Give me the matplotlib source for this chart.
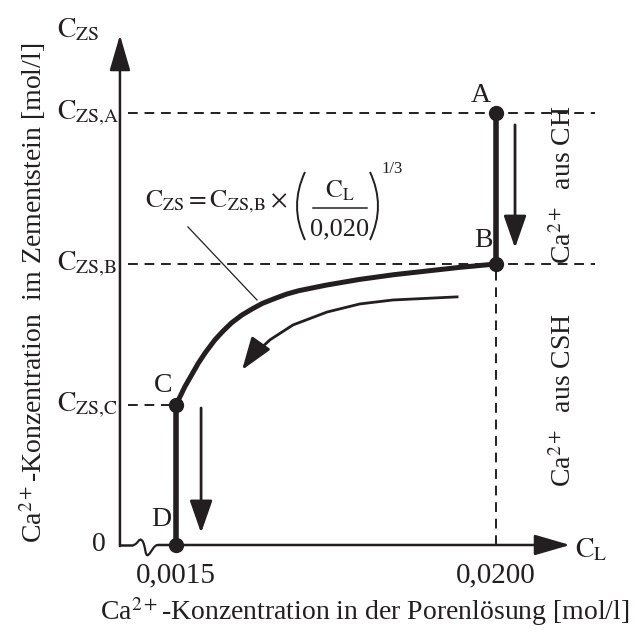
import numpy as np
import matplotlib
matplotlib.use('Agg')
import matplotlib.pyplot as plt
from matplotlib.path import Path
from matplotlib.patches import PathPatch

plt.rcParams['font.family'] = ['Liberation Serif', 'DejaVu Serif']
plt.rcParams['mathtext.fontset'] = 'stix'
farbe = '#231f20'

# Kennpunkte (C_L in mol/l, C_ZS bezogen auf C_ZS,B)
c_l_ch = 0.0200
c_l_csh = 0.0015
c_zs_a = 1.537
c_zs_b = 1.0
c_zs_c = 0.498
c_zs_top = 1.815

punkte_x = [c_l_ch, c_l_ch, c_l_csh, c_l_csh]
punkte_y = [c_zs_a, c_zs_b, c_zs_c, 0.0]

# Kurve C_ZS(C_L) zwischen C und B
kurve_cl = [0.0015, 0.0020, 0.0028, 0.0032, 0.00375, 0.0042, 0.0047, 0.0053, 0.0059,
            0.0065, 0.0072, 0.0079, 0.0086, 0.0102, 0.0121, 0.0141, 0.0160, 0.0179, 0.0200]
kurve_czs = [0.498, 0.562, 0.648, 0.685, 0.730, 0.760, 0.790, 0.818, 0.840,
             0.860, 0.877, 0.893, 0.905, 0.925, 0.945, 0.962, 0.975, 0.988, 1.0]

# gebogener Pfeil (Richtung B -> C)
pfeil_cl = [0.01775, 0.01405, 0.01214, 0.01023, 0.00826, 0.00693, 0.0058]
pfeil_czs = [0.883, 0.872, 0.858, 0.829, 0.783, 0.730, 0.665]
pfeil_spitze = (0.00532, 0.623)

x_ticks = [0.0015, 0.0200]
x_ticklabels = ['0,0015', '0,0200']

# Achsenursprung (Achse mit Bruch)
x0 = -0.00174
x_ende = 0.02428
x_dash_ende = 0.02572


def px(xp, yp):
    # Pixelposition -> Datenkoordinaten (fuer Dekoration der Formel)
    return (0.0015 + (xp - 176) / 17297.0, (545 - yp) / 281.0)


fig = plt.figure(figsize=(6.44, 6.35), dpi=100)
ax = fig.add_axes([0, 0, 1, 1])
ax.set_xlim(-0.008675, 0.028557)
ax.set_ylim(-0.3203, 1.9395)
ax.axis('off')

# gestrichelte Hilfslinien
dash = dict(color=farbe, lw=1.4, ls=(0, (5, 3.5)))
ax.plot([-0.00128, x_dash_ende], [c_zs_a, c_zs_a], **dash)
ax.plot([-0.00128, x_dash_ende], [c_zs_b, c_zs_b], **dash)
ax.plot([-0.00128, c_l_csh], [c_zs_c, c_zs_c], **dash)
ax.plot([c_l_ch, c_l_ch], [0, c_zs_b], **dash)

# Achsen
pfeil_achse = dict(arrowstyle='-|>,head_length=1.1,head_width=0.32', color=farbe,
                   lw=1.8, shrinkA=0, shrinkB=0, mutation_scale=20)
ax.annotate('', xy=(x0, c_zs_top), xytext=(x0, -0.004), arrowprops=pfeil_achse)
ax.plot([x0, -0.00099], [0.0, 0.0], color=farbe, lw=1.8, solid_capstyle='butt')
welle = Path([(-0.00099, 0.0), (-0.0007, 0.0), (-0.00065, 0.03), (-0.00045, 0.015),
              (-0.00025, 0.0), (-0.0003, -0.045), (-0.0001, -0.035),
              (0.0001, -0.025), (0.0002, 0.0), (0.00046, 0.0)],
             [Path.MOVETO, Path.CURVE4, Path.CURVE4, Path.CURVE4,
              Path.CURVE4, Path.CURVE4, Path.CURVE4,
              Path.CURVE4, Path.CURVE4, Path.CURVE4])
ax.add_patch(PathPatch(welle, fill=False, lw=1.6, edgecolor=farbe))
ax.annotate('', xy=(x_ende, 0.0), xytext=(0.00046, 0.0), arrowprops=pfeil_achse)

# dicke Linien A-B, C-D und Kurve C-B
ax.plot([c_l_ch, c_l_ch], [c_zs_a, c_zs_b], color=farbe, lw=4, solid_capstyle='butt')
ax.plot([c_l_csh, c_l_csh], [c_zs_c, 0.0], color=farbe, lw=4, solid_capstyle='butt')
ax.plot(kurve_cl, kurve_czs, color=farbe, lw=3.6, solid_joinstyle='round', solid_capstyle='round')
ax.plot(punkte_x, punkte_y, 'o', color=farbe, ms=10, zorder=5)

# Richtungspfeile
pfeil_duenn = dict(arrowstyle='-|>,head_length=1.0,head_width=0.35', color=farbe,
                   lw=2.0, shrinkA=0, shrinkB=0, mutation_scale=20)
ax.annotate('', xy=(0.0211, 1.057), xytext=(0.0211, 1.495), arrowprops=pfeil_duenn)
ax.annotate('', xy=(0.00295, 0.043), xytext=(0.00295, 0.4875), arrowprops=pfeil_duenn)
ax.plot(pfeil_cl, pfeil_czs, color=farbe, lw=2.0, solid_joinstyle='round')
ax.annotate('', xy=pfeil_spitze, xytext=(pfeil_cl[-1], pfeil_czs[-1]), arrowprops=pfeil_duenn)

# Punktbezeichnungen
fs = 20
ax.text(0.01913, 1.601, 'A', fontsize=fs, ha='center', va='center', color=farbe)
ax.text(0.01925, 1.085, 'B', fontsize=fs, ha='center', va='center', color=farbe)
ax.text(0.00075, 0.569, 'C', fontsize=fs, ha='center', va='center', color=farbe)
ax.text(0.00063, 0.089, 'D', fontsize=fs, ha='center', va='center', color=farbe)

# y-Beschriftungen
ax.text(-0.00538, 1.833, r'$\mathrm{C}_{\mathrm{ZS}}$', fontsize=fs, ha='left', va='center', color=farbe)
ax.text(-0.00538, c_zs_a, r'$\mathrm{C}_{\mathrm{ZS{,}A}}$', fontsize=fs, ha='left', va='center', color=farbe)
ax.text(-0.00538, c_zs_b, r'$\mathrm{C}_{\mathrm{ZS{,}B}}$', fontsize=fs, ha='left', va='center', color=farbe)
ax.text(-0.00538, c_zs_c, r'$\mathrm{C}_{\mathrm{ZS{,}C}}$', fontsize=fs, ha='left', va='center', color=farbe)
ax.text(-0.00255, 0.0, '0', fontsize=fs, ha='right', va='center', color=farbe)

# x-Beschriftungen
for xt, lab in zip(x_ticks, x_ticklabels):
    ax.text(xt, -0.107, lab, fontsize=21, ha='center', va='center', color=farbe)
ax.text(0.02457, -0.018, r'$\mathrm{C}_{\mathrm{L}}$', fontsize=fs, ha='left', va='center', color=farbe)

# Achsentitel
ax.text(0.01243, -0.238, 'Ca$^{2+}$-Konzentration in der Porenlösung [mol/l]',
        fontsize=fs, ha='center', va='center', color=farbe)
ax.text(-0.00677, 0.897, 'Ca$^{2+}$-Konzentration  im Zementstein [mol/l]',
        fontsize=fs, ha='center', va='center', rotation=90, color=farbe)

# Bereiche
ax.text(0.0239, 1.281, 'Ca$^{2+}$  aus CH', fontsize=fs, ha='center', va='center', rotation=90, color=farbe)
ax.text(0.0239, 0.516, 'Ca$^{2+}$  aus CSH', fontsize=fs, ha='center', va='center', rotation=90, color=farbe)

# Formel mit Hinweislinie
ax.plot([0.00219, 0.00618], [1.132, 0.872], color=farbe, lw=0.9)
ax.text(*px(287, 207), r'$\mathrm{C}_{\mathrm{ZS}} = \mathrm{C}_{\mathrm{ZS{,}B}} \times$',
        fontsize=18.5, ha='right', va='baseline', color=farbe)
ax.text(*px(340, 198), r'$\mathrm{C}_{\mathrm{L}}$', fontsize=18, ha='center', va='baseline', color=farbe)
bar_l, bar_r = px(313, 208), px(367, 208)
ax.plot([bar_l[0], bar_r[0]], [bar_l[1], bar_r[1]], color=farbe, lw=1.1)
ax.text(*px(340, 235), '0,020', fontsize=19, ha='center', va='baseline', color=farbe)
klammer_l = Path([px(305, 172), px(289, 206), px(305, 240)],
                 [Path.MOVETO, Path.CURVE3, Path.CURVE3])
klammer_r = Path([px(370, 172), px(386, 206), px(370, 240)],
                 [Path.MOVETO, Path.CURVE3, Path.CURVE3])
ax.add_patch(PathPatch(klammer_l, fill=False, lw=1.4, edgecolor=farbe))
ax.add_patch(PathPatch(klammer_r, fill=False, lw=1.4, edgecolor=farbe))
ax.text(*px(381, 173), '1/3', fontsize=12, ha='left', va='baseline', color=farbe)

fig.savefig('out.png', dpi=100)
